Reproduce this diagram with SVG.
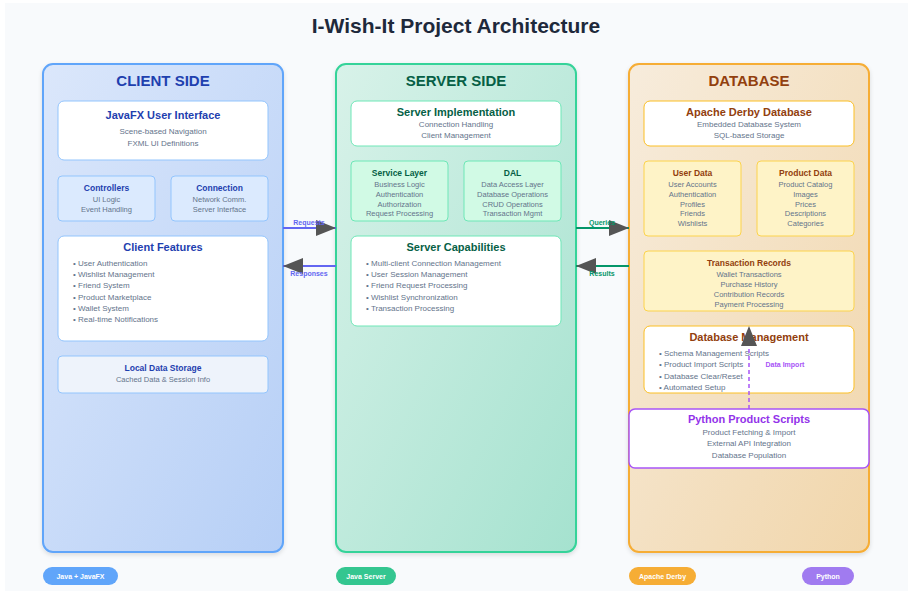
<svg xmlns="http://www.w3.org/2000/svg" width="915" height="592" viewBox="0 0 915 592">
<defs>
<linearGradient id="gClient" x1="0" y1="0" x2="1" y2="1"><stop offset="0" stop-color="#dbe7fb"/><stop offset="1" stop-color="#b6cff6"/></linearGradient>
<linearGradient id="gServer" x1="0" y1="0" x2="1" y2="1"><stop offset="0" stop-color="#d8f2e9"/><stop offset="1" stop-color="#a5e2cf"/></linearGradient>
<linearGradient id="gDb" x1="0" y1="0" x2="1" y2="1"><stop offset="0" stop-color="#f7ecdc"/><stop offset="1" stop-color="#f1d6ab"/></linearGradient>
<filter id="sh" x="-10%" y="-10%" width="120%" height="120%"><feDropShadow dx="0" dy="2" stdDeviation="2" flood-color="#000" flood-opacity="0.12"/></filter>
<marker id="ah" viewBox="0 0 10 10" refX="10" refY="5" markerWidth="10" markerHeight="7.5" markerUnits="userSpaceOnUse" orient="auto"><path d="M0,0 L10,5 L0,10 z" fill="#555"/></marker>
<marker id="ahBig" viewBox="0 0 20 16" refX="20" refY="8" markerWidth="20" markerHeight="16" markerUnits="userSpaceOnUse" orient="auto"><path d="M0,0 L20,8 L0,16 z" fill="#555"/></marker>
</defs>
<style>
text{font-family:"Liberation Sans",Arial,sans-serif;text-anchor:middle}
.title{font-size:21px;font-weight:bold;fill:#1e293b}
.ph{font-size:15px;font-weight:bold}
.bt{font-size:11px;font-weight:bold}
.st{font-size:8.5px;font-weight:bold}
.sub{font-size:7.5px;fill:#64748b}
.sub2{font-size:8px;fill:#64748b}
.bul{font-size:8px;fill:#64748b;text-anchor:start}
.cb{fill:#1e40af}.sb{fill:#065f46}.db{fill:#92400e}.pb{fill:#9333ea}
.lbl{font-size:7px;font-weight:bold}
.badge{font-size:7px;font-weight:bold;fill:#fff}
</style>
<rect x="0" y="0" width="915" height="592" fill="#ffffff"/>
<rect x="5" y="3" width="903" height="588" fill="#f8fafc"/>
<text class="title" x="456" y="33">I-Wish-It Project Architecture</text>

<g id="client-side">
<rect x="43" y="64" width="240" height="488" rx="10" fill="url(#gClient)" stroke="#60a5fa" stroke-width="2" filter="url(#sh)"/>
<text class="ph cb" x="163" y="86">CLIENT SIDE</text>
</g>
<g id="javafx-ui">
<rect x="58" y="101" width="210" height="59" rx="6" fill="#fff" stroke="#93c5fd"/>
<text class="bt cb" x="163" y="119">JavaFX User Interface</text>
<text class="sub2" x="163" y="134">Scene-based Navigation</text>
<text class="sub2" x="163" y="146">FXML UI Definitions</text>
</g>
<g id="controllers">
<rect x="58" y="176" width="97" height="45" rx="4" fill="#dbeafe" stroke="#93c5fd"/>
<text class="st cb" x="106.5" y="191">Controllers</text>
<text class="sub" x="106.5" y="202">UI Logic</text>
<text class="sub" x="106.5" y="212">Event Handling</text>
</g>
<g id="connection">
<rect x="171" y="176" width="97" height="45" rx="4" fill="#dbeafe" stroke="#93c5fd"/>
<text class="st cb" x="219.5" y="191">Connection</text>
<text class="sub" x="219.5" y="202">Network Comm.</text>
<text class="sub" x="219.5" y="212">Server Interface</text>
</g>
<g id="client-features">
<rect x="58" y="236" width="210" height="105" rx="6" fill="#fff" stroke="#93c5fd"/>
<text class="bt cb" x="163" y="251">Client Features</text>
<text class="bul" x="73" y="266">• User Authentication</text>
<text class="bul" x="73" y="277">• Wishlist Management</text>
<text class="bul" x="73" y="288">• Friend System</text>
<text class="bul" x="73" y="300">• Product Marketplace</text>
<text class="bul" x="73" y="311">• Wallet System</text>
<text class="bul" x="73" y="322">• Real-time Notifications</text>
</g>
<g id="local-storage">
<rect x="58" y="356" width="210" height="37" rx="4" fill="#eef3fb" stroke="#93c5fd"/>
<text class="st cb" x="163" y="371">Local Data Storage</text>
<text class="sub" x="163" y="382">Cached Data &amp; Session Info</text>
</g>

<g id="server-side">
<rect x="336" y="64" width="240" height="488" rx="10" fill="url(#gServer)" stroke="#34d399" stroke-width="2" filter="url(#sh)"/>
<text class="ph sb" x="456" y="86">SERVER SIDE</text>
</g>
<g id="server-impl">
<rect x="351" y="101" width="210" height="45" rx="6" fill="#fff" stroke="#6ee7b7"/>
<text class="bt sb" x="456" y="116">Server Implementation</text>
<text class="sub2" x="456" y="127">Connection Handling</text>
<text class="sub2" x="456" y="138">Client Management</text>
</g>
<g id="service-layer">
<rect x="351" y="161" width="97" height="60" rx="4" fill="#d1fae5" stroke="#6ee7b7"/>
<text class="st sb" x="399.5" y="176">Service Layer</text>
<text class="sub" x="399.5" y="187">Business Logic</text>
<text class="sub" x="399.5" y="197">Authentication</text>
<text class="sub" x="399.5" y="207">Authorization</text>
<text class="sub" x="399.5" y="216">Request Processing</text>
</g>
<g id="dal">
<rect x="464" y="161" width="97" height="60" rx="4" fill="#d1fae5" stroke="#6ee7b7"/>
<text class="st sb" x="512.5" y="176">DAL</text>
<text class="sub" x="512.5" y="187">Data Access Layer</text>
<text class="sub" x="512.5" y="197">Database Operations</text>
<text class="sub" x="512.5" y="207">CRUD Operations</text>
<text class="sub" x="512.5" y="216">Transaction Mgmt</text>
</g>
<g id="server-capabilities">
<rect x="351" y="236" width="210" height="90" rx="6" fill="#fff" stroke="#6ee7b7"/>
<text class="bt sb" x="456" y="251">Server Capabilities</text>
<text class="bul" x="366" y="266">• Multi-client Connection Management</text>
<text class="bul" x="366" y="277">• User Session Management</text>
<text class="bul" x="366" y="288">• Friend Request Processing</text>
<text class="bul" x="366" y="300">• Wishlist Synchronization</text>
<text class="bul" x="366" y="311">• Transaction Processing</text>
</g>

<g id="database">
<rect x="629" y="64" width="240" height="488" rx="10" fill="url(#gDb)" stroke="#f6ad35" stroke-width="2" filter="url(#sh)"/>
<text class="ph db" x="749" y="86">DATABASE</text>
</g>
<g id="apache-derby">
<rect x="644" y="101" width="210" height="45" rx="6" fill="#fff" stroke="#fbbf24"/>
<text class="bt db" x="749" y="116">Apache Derby Database</text>
<text class="sub2" x="749" y="127">Embedded Database System</text>
<text class="sub2" x="749" y="138">SQL-based Storage</text>
</g>
<g id="user-data">
<rect x="644" y="161" width="97" height="75" rx="4" fill="#fef3c7" stroke="#fcd34d"/>
<text class="st db" x="692.5" y="176">User Data</text>
<text class="sub" x="692.5" y="187">User Accounts</text>
<text class="sub" x="692.5" y="197">Authentication</text>
<text class="sub" x="692.5" y="207">Profiles</text>
<text class="sub" x="692.5" y="216">Friends</text>
<text class="sub" x="692.5" y="226">Wishlists</text>
</g>
<g id="product-data">
<rect x="757" y="161" width="97" height="75" rx="4" fill="#fef3c7" stroke="#fcd34d"/>
<text class="st db" x="805.5" y="176">Product Data</text>
<text class="sub" x="805.5" y="187">Product Catalog</text>
<text class="sub" x="805.5" y="197">Images</text>
<text class="sub" x="805.5" y="207">Prices</text>
<text class="sub" x="805.5" y="216">Descriptions</text>
<text class="sub" x="805.5" y="226">Categories</text>
</g>
<g id="transaction-records">
<rect x="644" y="251" width="210" height="60" rx="4" fill="#fef3c7" stroke="#fcd34d"/>
<text class="st db" x="749" y="266">Transaction Records</text>
<text class="sub" x="749" y="277">Wallet Transactions</text>
<text class="sub" x="749" y="287">Purchase History</text>
<text class="sub" x="749" y="297">Contribution Records</text>
<text class="sub" x="749" y="307">Payment Processing</text>
</g>
<g id="db-management">
<rect x="644" y="326" width="210" height="67" rx="6" fill="#fff" stroke="#fbbf24"/>
<text class="bt db" x="749" y="341">Database Management</text>
<text class="bul" x="659" y="356">• Schema Management Scripts</text>
<text class="bul" x="659" y="367">• Product Import Scripts</text>
<text class="bul" x="659" y="379">• Database Clear/Reset</text>
<text class="bul" x="659" y="390">• Automated Setup</text>
</g>
<g id="python-scripts">
<rect x="629" y="409" width="240" height="59" rx="6" fill="#fff" stroke="#a855f7" stroke-width="1.5"/>
<text class="bt pb" x="749" y="423">Python Product Scripts</text>
<text class="sub2" x="749" y="435">Product Fetching &amp; Import</text>
<text class="sub2" x="749" y="446">External API Integration</text>
<text class="sub2" x="749" y="458">Database Population</text>
</g>

<g id="connectors">
<line x1="283" y1="228" x2="336" y2="228" stroke="#6366f1" stroke-width="2" marker-end="url(#ahBig)"/>
<text class="lbl" x="309" y="225" fill="#6366f1">Requests</text>
<line x1="336" y1="266" x2="283" y2="266" stroke="#6366f1" stroke-width="2" marker-end="url(#ahBig)"/>
<text class="lbl" x="309" y="276" fill="#6366f1">Responses</text>
<line x1="576" y1="228" x2="629" y2="228" stroke="#059669" stroke-width="2" marker-end="url(#ahBig)"/>
<text class="lbl" x="602" y="225" fill="#059669">Queries</text>
<line x1="629" y1="266" x2="576" y2="266" stroke="#059669" stroke-width="2" marker-end="url(#ahBig)"/>
<text class="lbl" x="602" y="276" fill="#059669">Results</text>
<line x1="749" y1="409" x2="749" y2="326" stroke="#a855f7" stroke-width="1.5" stroke-dasharray="4,3" marker-end="url(#ahBig)"/>
<text class="lbl" x="785" y="367" fill="#a855f7">Data Import</text>
</g>

<g id="badge-java">
<rect x="43" y="567" width="75" height="18" rx="9" fill="#60a5fa"/>
<text class="badge" x="80.5" y="578.5">Java + JavaFX</text>
</g>
<g id="badge-server">
<rect x="336" y="567" width="60" height="18" rx="9" fill="#34c690"/>
<text class="badge" x="366" y="578.5">Java Server</text>
</g>
<g id="badge-derby">
<rect x="629" y="567" width="67" height="18" rx="9" fill="#f6ad35"/>
<text class="badge" x="662.5" y="578.5">Apache Derby</text>
</g>
<g id="badge-python">
<rect x="802" y="567" width="52" height="18" rx="9" fill="#a07bf0"/>
<text class="badge" x="828" y="578.5">Python</text>
</g>
</svg>
